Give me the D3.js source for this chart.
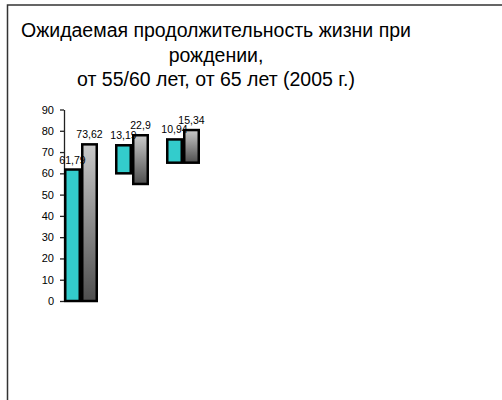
<!DOCTYPE html>
<html>
<head>
<meta charset="utf-8">
<script src="https://cdn.jsdelivr.net/npm/d3@7"></script>
<style>
  body { margin: 0; background: #fff; }
  text { font-family: "Liberation Sans", Arial, sans-serif; fill: #000; }
</style>
</head>
<body>
<svg id="chart"></svg>
<script>
// title lines
const titleLines = ["Ожидаемая продолжительность жизни при", "рождении,", "от 55/60 лет, от 65 лет (2005 г.)"]

// three groups: at birth, from 55/60, from 65
const groups = ["при рождении", "от 55/60 лет", "от 65 лет"]
const series = ["teal", "gray"]

// floating bars: base + length
const tealBase = [0, 60, 65]
const tealValues = [61.79, 13.19, 10.94]
const grayBase = [0, 55, 65]
const grayValues = [73.62, 22.9, 15.34]

const yTicks = [0, 10, 20, 30, 40, 50, 60, 70, 80, 90]

const W = 502
const H = 400

const svg = d3.select("#chart")
  .attr("width", W)
  .attr("height", H)

// frame
svg.append("rect")
  .attr("x", 7.5)
  .attr("y", 5)
  .attr("width", 520)
  .attr("height", 420)
  .attr("fill", "none")
  .attr("stroke", "#333")
  .attr("stroke-width", 1.5)

// gradient for the gray bars
const defs = svg.append("defs")
const grad = defs.append("linearGradient")
  .attr("id", "grayGrad")
  .attr("x1", 0).attr("y1", 0)
  .attr("x2", 0).attr("y2", 1)
grad.append("stop").attr("offset", "0%").attr("stop-color", "#cacaca")
grad.append("stop").attr("offset", "100%").attr("stop-color", "#4e4e4e")

// title, centred
svg.append("g")
  .selectAll("text")
  .data(titleLines)
  .enter()
  .append("text")
  .attr("x", 216)
  .attr("y", function (d, i) { return 37 + i * 24.5 })
  .attr("text-anchor", "middle")
  .style("font-size", "19.5px")
  .text(function (d) { return d })

const y = d3.scaleLinear()
  .domain([0, 90])
  .range([301, 109.5])

const x0 = d3.scaleBand()
  .domain(groups)
  .range([64, 217])

const x1 = d3.scaleBand()
  .domain(series)
  .range([0, 34])

// y axis
const yAxis = svg.append("g")
  .attr("transform", "translate(64,0)")
  .call(d3.axisLeft(y).tickValues(yTicks).tickSize(4).tickSizeOuter(0).tickPadding(6))
yAxis.select(".domain").attr("stroke", "#222").attr("stroke-width", 1.3)
yAxis.selectAll(".tick line").attr("stroke", "#222").attr("stroke-width", 1.3)
yAxis.selectAll(".tick text")
  .style("font-family", "'Liberation Sans', Arial, sans-serif")
  .style("font-size", "11px")
  .attr("fill", "#000")

// bar data
const bars = []
groups.forEach(function (g, i) {
  bars.push({group: g, s: "teal", base: tealBase[i], v: tealValues[i]})
  bars.push({group: g, s: "gray", base: grayBase[i], v: grayValues[i]})
})

const sw = 2.5
svg.append("g")
  .selectAll("rect")
  .data(bars)
  .enter()
  .append("rect")
  .attr("x", function (d) { return x0(d.group) + x1(d.s) + sw / 2 })
  .attr("y", function (d) { return y(d.base + d.v) })
  .attr("width", x1.bandwidth() - sw)
  .attr("height", function (d) { return y(d.base) - y(d.base + d.v) })
  .attr("fill", function (d) { return d.s === "teal" ? "#33cccc" : "url(#grayGrad)" })
  .attr("stroke", "#000")
  .attr("stroke-width", sw)

// value labels
svg.append("g")
  .selectAll("text")
  .data(bars)
  .enter()
  .append("text")
  .attr("x", function (d) { return x0(d.group) + x1(d.s) + x1.bandwidth() / 2 })
  .attr("y", function (d) { return y(d.base + d.v) - 6 })
  .attr("text-anchor", "middle")
  .style("font-size", "10.5px")
  .text(function (d) { return String(d.v).replace(".", ",") })
</script>
</body>
</html>
